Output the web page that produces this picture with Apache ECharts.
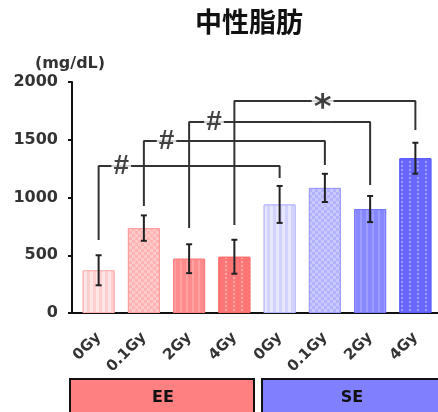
<!DOCTYPE html>
<html><head><meta charset="utf-8">
<script src="https://cdn.jsdelivr.net/npm/echarts@6/dist/echarts.min.js"></script>
<style>html,body{margin:0;padding:0;background:#fff}#c{width:438px;height:412px}</style>
</head><body><div id="c"></div>
<script>
// ---- data ----
var categories = ['0Gy', '0.1Gy', '2Gy', '4Gy', '0Gy', '0.1Gy', '2Gy', '4Gy'];
var means = [370, 735, 470, 487, 940, 1083, 900, 1340];
var errors = [130, 110, 125, 147, 160, 122, 113, 134];
var groups = ['EE', 'SE'];
var yTicks = [0, 500, 1000, 1500, 2000];
// significance brackets
var bracketFrom = [0, 1, 2, 3];
var bracketTo = [4, 5, 6, 7];
var bracketLevel = [1273, 1489, 1654, 1835];
var bracketLeftEnd = [632, 926, 736, 762];
var bracketRightEnd = [1169, 1281, 1108, 1584];
var bracketMark = ['#', '#', '#', '*'];
var bracketMarkX = [0.5, 1.5, 2.55, 4.95];

// ---- styles ----
var barColors = ['#FFCFCF', '#FFB3B3', '#FF8C8C', '#FF7474', '#D2D2FF', '#B2B2FF', '#8787FF', '#6767FF'];
var barBorders = ['#FFB4B4', '#FF9E9E', '#FF7E7E', '#FF6A6A', '#B8B8FF', '#9C9CFF', '#7878FF', '#5A5AFF'];
var decals = [
  {symbol: 'rect', dashArrayX: [[3, 3]], dashArrayY: [1, 0], color: 'rgba(255,255,255,0.45)'},
  {symbol: 'rect', dashArrayX: [[3, 3], [0, 3, 3, 0]], dashArrayY: [3, 0], color: 'rgba(255,255,255,0.3)'},
  {symbol: 'rect', dashArrayX: [[2, 4]], dashArrayY: [1, 0], color: 'rgba(255,255,255,0.18)'},
  {symbol: 'circle', symbolSize: 0.6, dashArrayX: [[4, 4]], dashArrayY: [4, 0], color: 'rgba(255,255,255,0.35)'}
];
var F = '"DejaVu Sans", Verdana, sans-serif';

var barData = means.map(function (v, i) {
  return {value: v, itemStyle: {color: barColors[i], borderColor: barBorders[i], borderWidth: 1, decal: decals[i % 4]}};
});
var errData = means.map(function (v, i) { return [i, v, errors[i]]; });

var bracketSeries = bracketFrom.map(function (f, k) {
  return {
    type: 'line', xAxisIndex: 1, yAxisIndex: 0, symbol: 'none', silent: true, z: 3,
    lineStyle: {color: '#333', width: 2},
    data: [[f, bracketLeftEnd[k]], [f, bracketLevel[k]], [bracketTo[k], bracketLevel[k]], [bracketTo[k], bracketRightEnd[k]]]
  };
});
var markData = bracketMark.map(function (m, k) {
  var d = {value: [bracketMarkX[k], bracketLevel[k]], name: m};
  if (m === '*') {
    d.label = {fontFamily: F, fontSize: 34, offset: [0, 8], padding: [0, 2, -10, 2]};
  }
  return d;
});

var chart = echarts.init(document.getElementById('c'), null, {renderer: 'canvas'});
chart.setOption({
  animation: false,
  title: {
    text: '中性脂肪', left: 195, top: 8, padding: 0,
    textStyle: {fontFamily: '"Noto Sans CJK JP", sans-serif', fontWeight: 'bold', fontSize: 27, color: '#111'}
  },
  grid: {left: 76, top: 82, width: 369.6, bottom: 99},
  xAxis: [{
    type: 'category', data: categories, boundaryGap: true,
    axisLine: {lineStyle: {color: '#111', width: 2}},
    axisTick: {show: false},
    axisLabel: {
      rotate: 45, margin: 22, interval: 0, color: '#333', fontFamily: F, fontWeight: 'bold', fontSize: 15
    }
  }, {
    type: 'value', min: -0.5, max: 7.5, show: false, gridIndex: 0
  }],
  yAxis: {
    type: 'value', min: 0, max: 2000, interval: 500, offset: 4,
    name: '(mg/dL)', nameLocation: 'end', nameGap: 18,
    nameTextStyle: {color: '#333', fontFamily: F, fontWeight: 'bold', fontSize: 16, align: 'center', verticalAlign: 'middle', padding: [0, 4, 0, 0]},
    axisLine: {show: true, onZero: false, lineStyle: {color: '#111', width: 2}},
    axisTick: {show: true, length: 4, lineStyle: {color: '#111', width: 2}},
    splitLine: {show: false},
    axisLabel: {
      margin: 14, color: '#333', fontFamily: F, fontWeight: 'bold', fontSize: 16,
      formatter: function (v) { return yTicks.indexOf(v) >= 0 ? String(v) : ''; }
    }
  },
  series: [{
    type: 'bar', data: barData, barWidth: 32, z: 2
  }, {
    type: 'custom', xAxisIndex: 0, z: 5, data: errData,
    renderItem: function (params, api) {
      var x = api.value(0), m = api.value(1), e = api.value(2);
      var top = api.coord([x, m + e]);
      var bot = api.coord([x, m - e]);
      var cw = 3;
      var st = {stroke: '#222', lineWidth: 2};
      return {type: 'group', children: [
        {type: 'line', shape: {x1: top[0], y1: top[1], x2: bot[0], y2: bot[1]}, style: st},
        {type: 'line', shape: {x1: top[0] - cw, y1: top[1], x2: top[0] + cw, y2: top[1]}, style: st},
        {type: 'line', shape: {x1: bot[0] - cw, y1: bot[1], x2: bot[0] + cw, y2: bot[1]}, style: st}
      ]};
    }
  }].concat(bracketSeries).concat([{
    type: 'scatter', xAxisIndex: 1, yAxisIndex: 0, z: 6, symbolSize: 2, itemStyle: {color: 'rgba(0,0,0,0)'},
    data: markData,
    label: {
      show: true, position: 'inside', formatter: function (p) { return p.name; },
      fontFamily: '"Liberation Sans", Arial, sans-serif', fontWeight: 'bold', fontSize: 28, color: '#111',
      backgroundColor: '#fff', padding: [0, 2, 0, 2]
    }
  }]),
  graphic: [
    {type: 'line', shape: {x1: 71, y1: 313, x2: 77, y2: 313}, style: {stroke: '#111', lineWidth: 2}},
    {type: 'rect', shape: {x: 70, y: 379, width: 184, height: 45}, style: {fill: '#FF8080', stroke: '#111', lineWidth: 2}},
    {type: 'rect', shape: {x: 262, y: 379, width: 190, height: 45}, style: {fill: '#8080FF', stroke: '#111', lineWidth: 2}},
    {type: 'text', x: 163, y: 398, style: {text: groups[0], fill: '#111', font: 'bold 16px ' + F, textAlign: 'center', textVerticalAlign: 'middle'}},
    {type: 'text', x: 352, y: 398, style: {text: groups[1], fill: '#111', font: 'bold 16px ' + F, textAlign: 'center', textVerticalAlign: 'middle'}}
  ]
});
</script></body></html>
